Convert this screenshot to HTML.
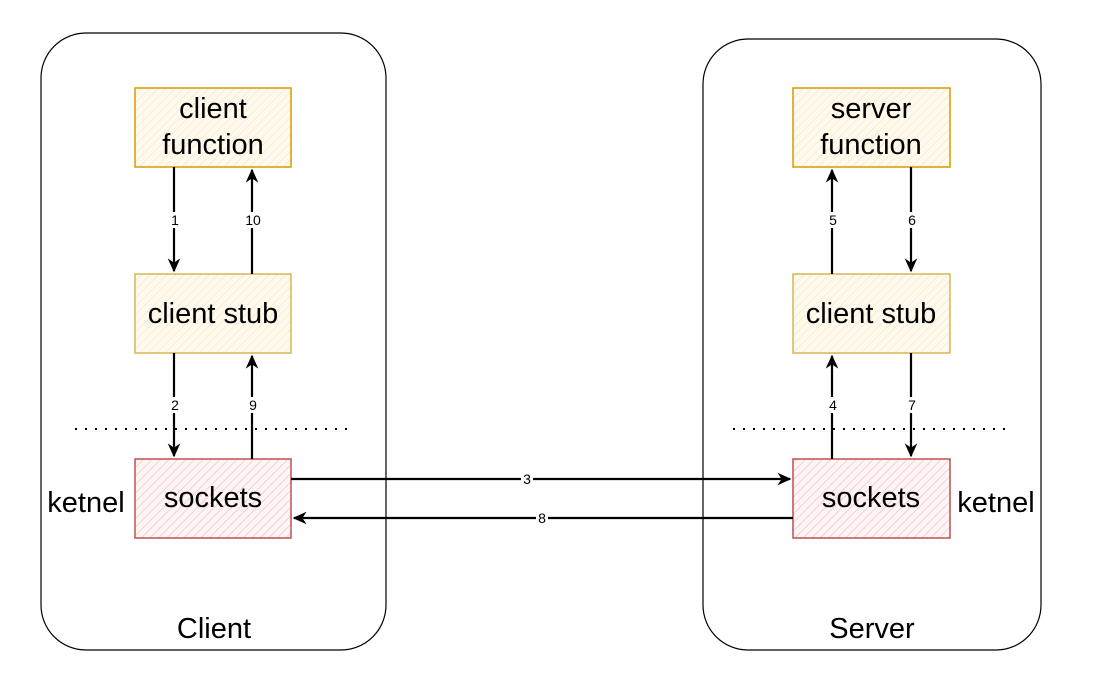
<!DOCTYPE html>
<html><head><meta charset="utf-8"><style>
html,body{margin:0;padding:0;background:#fff;}
svg{display:block;font-family:"Liberation Sans",Arial,sans-serif;}
</style></head><body>
<svg width="1098" height="675" viewBox="0 0 1098 675" xmlns="http://www.w3.org/2000/svg">
<defs>
<pattern id="hy" width="6" height="6" patternUnits="userSpaceOnUse" patternTransform="rotate(45)">
<rect width="6" height="6" fill="#fffaf0"/><line x1="0" y1="0" x2="0" y2="6" stroke="#fbe6b8" stroke-width="1.5"/></pattern>
<pattern id="hr" width="6" height="6" patternUnits="userSpaceOnUse" patternTransform="rotate(45)">
<rect width="6" height="6" fill="#fff5f5"/><line x1="0" y1="0" x2="0" y2="6" stroke="#f3c4c4" stroke-width="1.5"/></pattern>
<marker id="ah" viewBox="0 0 10 10" refX="9" refY="5" markerWidth="14" markerHeight="14" orient="auto-start-reverse" markerUnits="userSpaceOnUse">
<path d="M0,0.5 L10,5 L0,9.5 L3,5 Z" fill="#000"/></marker>
</defs>
<rect x="41" y="33" width="345" height="617" rx="45" fill="none" stroke="#000" stroke-width="1.2"/>
<rect x="703" y="39" width="338" height="611" rx="45" fill="none" stroke="#000" stroke-width="1.2"/>
<g stroke-width="1.5">
<rect x="135" y="88" width="156" height="79" fill="url(#hy)" stroke="#d79b00"/>
<rect x="135" y="274" width="156" height="79" fill="url(#hy)" stroke="#d6b656"/>
<rect x="135" y="459" width="156" height="79" fill="url(#hr)" stroke="#b85450"/>
<rect x="793" y="88" width="157" height="79" fill="url(#hy)" stroke="#d79b00"/>
<rect x="793" y="274" width="157" height="79" fill="url(#hy)" stroke="#d6b656"/>
<rect x="793" y="459" width="157" height="79" fill="url(#hr)" stroke="#b85450"/>
</g>
<g stroke="#000" stroke-width="2" stroke-dasharray="2,8">
<line x1="75" y1="429" x2="348" y2="429"/>
<line x1="733" y1="429" x2="1007" y2="429"/>
</g>
<g stroke="#000" stroke-width="2.2" fill="none" marker-end="url(#ah)">
<line x1="174" y1="167" x2="174" y2="271"/>
<line x1="252" y1="274" x2="252" y2="170"/>
<line x1="174" y1="353" x2="174" y2="456"/>
<line x1="252" y1="459" x2="252" y2="356"/>
<line x1="832" y1="274" x2="832" y2="170"/>
<line x1="911" y1="167" x2="911" y2="271"/>
<line x1="832" y1="459" x2="832" y2="356"/>
<line x1="911" y1="353" x2="911" y2="456"/>
<line x1="291" y1="479" x2="790" y2="479"/>
<line x1="793" y1="518" x2="294" y2="518"/>
</g>
<g font-size="14" text-anchor="middle" dominant-baseline="central">
<rect x="168" y="212" width="12" height="16" fill="#fff"/><text x="175" y="220">1</text>
<rect x="244" y="212" width="18" height="16" fill="#fff"/><text x="253" y="220">10</text>
<rect x="168" y="397" width="12" height="16" fill="#fff"/><text x="175" y="405">2</text>
<rect x="246" y="397" width="12" height="16" fill="#fff"/><text x="253" y="405">9</text>
<rect x="826" y="212" width="12" height="16" fill="#fff"/><text x="833" y="220">5</text>
<rect x="905" y="212" width="12" height="16" fill="#fff"/><text x="912" y="220">6</text>
<rect x="826" y="397" width="12" height="16" fill="#fff"/><text x="833" y="405">4</text>
<rect x="905" y="397" width="12" height="16" fill="#fff"/><text x="912" y="405">7</text>
<rect x="521" y="471" width="12" height="16" fill="#fff"/><text x="527" y="479">3</text>
<rect x="536" y="510" width="12" height="16" fill="#fff"/><text x="542" y="518">8</text>
</g>
<g font-size="29" text-anchor="middle" fill="#000">
<text x="213" y="118">client</text>
<text x="213" y="154">function</text>
<text x="213" y="323">client stub</text>
<text x="213" y="507">sockets</text>
<text x="871" y="118">server</text>
<text x="871" y="154">function</text>
<text x="871" y="323">client stub</text>
<text x="871" y="507">sockets</text>
<text x="86" y="512">ketnel</text>
<text x="996" y="512">ketnel</text>
<text x="214" y="638">Client</text>
<text x="872" y="638">Server</text>
</g>
</svg>
</body></html>
